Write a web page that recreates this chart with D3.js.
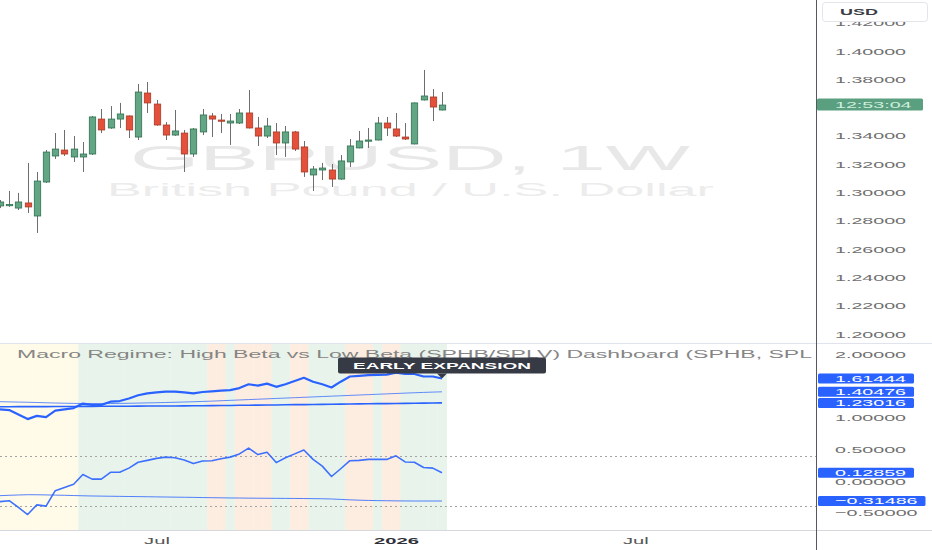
<!DOCTYPE html>
<html><head><meta charset="utf-8">
<script src="https://cdn.jsdelivr.net/npm/d3@7/dist/d3.min.js"></script>
<style>html,body{margin:0;padding:0;background:#fff;overflow:hidden}svg{display:block}</style>
</head><body><svg id="c" width="932" height="550"></svg>
<script>
// ---------- DATA ----------
const startDate = "2025-03-03"; // first weekly bar (Monday)
const open  = [1.2905,1.2912,1.2890,1.2926,1.2834,1.3074,1.3258,1.3300,1.3251,1.3251,1.3272,1.3519,1.3456,1.3519,1.3541,1.3392,1.3703,1.3625,1.3477,1.3406,1.3420,1.3272,1.3428,1.3541,1.3512,1.3491,1.3491,1.3562,1.3456,1.3399,1.3428,1.3350,1.3428,1.3322,1.3124,1.3159,1.3159,1.3095,1.3216,1.3315,1.3367,1.3371,1.3491,1.3449,1.3392,1.3343,1.3654,1.3675,1.3583];
const high  = [1.2947,1.3011,1.2997,1.3209,1.3145,1.3300,1.3420,1.3442,1.3399,1.3357,1.3541,1.3590,1.3611,1.3633,1.3545,1.3767,1.3781,1.3654,1.3498,1.3583,1.3442,1.3456,1.3590,1.3562,1.3555,1.3555,1.3590,1.3724,1.3534,1.3527,1.3491,1.3470,1.3435,1.3364,1.3187,1.3209,1.3201,1.3265,1.3378,1.3435,1.3456,1.3534,1.3534,1.3562,1.3491,1.3636,1.3866,1.3731,1.3710];
const low   = [1.2890,1.2898,1.2876,1.2855,1.2714,1.3067,1.3237,1.3258,1.3216,1.3145,1.3265,1.3420,1.3450,1.3456,1.3385,1.3371,1.3562,1.3472,1.3371,1.3400,1.3145,1.3251,1.3406,1.3392,1.3420,1.3336,1.3484,1.3452,1.3329,1.3385,1.3265,1.3251,1.3293,1.3110,1.3011,1.3088,1.3039,1.3090,1.3180,1.3312,1.3315,1.3368,1.3399,1.3392,1.3371,1.3340,1.3650,1.3505,1.3580];
const close = [1.2933,1.2915,1.2933,1.2898,1.3081,1.3286,1.3307,1.3272,1.3307,1.3272,1.3534,1.3442,1.3519,1.3555,1.3442,1.3710,1.3633,1.3477,1.3406,1.3435,1.3272,1.3449,1.3548,1.3519,1.3505,1.3505,1.3562,1.3456,1.3399,1.3470,1.3350,1.3428,1.3307,1.3145,1.3166,1.3173,1.3095,1.3223,1.3329,1.3364,1.3371,1.3491,1.3456,1.3399,1.3378,1.3633,1.3682,1.3604,1.3618];

const ratio     = [1.127,1.117,1.046,0.975,1.026,1.006,1.107,1.127,1.148,1.219,1.199,1.199,1.249,1.259,1.300,1.351,1.381,1.397,1.407,1.407,1.397,1.381,1.402,1.412,1.422,1.432,1.463,1.524,1.503,1.534,1.483,1.524,1.574,1.625,1.564,1.524,1.473,1.564,1.646,1.656,1.666,1.671,1.676,1.706,1.686,1.686,1.646,1.646,1.61444];
const ratioMA   = [1.249,1.246,1.243,1.240,1.236,1.232,1.228,1.225,1.222,1.220,1.219,1.219,1.220,1.222,1.224,1.227,1.230,1.233,1.236,1.240,1.244,1.248,1.253,1.258,1.264,1.270,1.276,1.282,1.288,1.294,1.300,1.306,1.312,1.318,1.324,1.330,1.336,1.342,1.348,1.354,1.360,1.366,1.372,1.378,1.384,1.390,1.395,1.400,1.40476];
const ratioLong = [1.170,1.170,1.171,1.171,1.172,1.172,1.173,1.173,1.174,1.175,1.175,1.176,1.177,1.177,1.178,1.179,1.180,1.180,1.181,1.182,1.183,1.184,1.186,1.187,1.189,1.190,1.192,1.193,1.195,1.197,1.198,1.200,1.202,1.203,1.205,1.207,1.209,1.210,1.212,1.214,1.216,1.218,1.219,1.221,1.223,1.225,1.227,1.229,1.23016];
const osc       = [-0.325,-0.310,-0.417,-0.528,-0.376,-0.396,-0.152,-0.102,-0.051,0.102,0.030,0.030,0.137,0.137,0.203,0.295,0.325,0.356,0.376,0.366,0.330,0.274,0.315,0.320,0.350,0.376,0.427,0.518,0.416,0.452,0.290,0.366,0.427,0.488,0.340,0.234,0.071,0.193,0.320,0.325,0.340,0.340,0.340,0.396,0.300,0.295,0.213,0.203,0.12859];
const oscMA     = [-0.231,-0.225,-0.220,-0.216,-0.217,-0.219,-0.222,-0.225,-0.229,-0.233,-0.236,-0.238,-0.240,-0.242,-0.244,-0.246,-0.248,-0.250,-0.252,-0.254,-0.256,-0.258,-0.261,-0.263,-0.265,-0.267,-0.268,-0.270,-0.271,-0.272,-0.273,-0.274,-0.275,-0.276,-0.278,-0.280,-0.283,-0.290,-0.297,-0.302,-0.306,-0.309,-0.311,-0.313,-0.314,-0.315,-0.315,-0.315,-0.31486];
const regimeRuns = [["Y",9],["G",14],["O",2],["G",1],["O",4],["G",2],["O",2],["G",4],["O",3],["G",1],["O",2],["G",5]];
const levels    = [0.4, -0.4];

// tick labels (1.36000 and 1.50000 are hidden under the value labels in the original)
const priceTicks = [1.20,1.22,1.24,1.26,1.28,1.30,1.32,1.34,1.38,1.40,1.42];
const oscTicks   = [-0.5,0,0.5,1,2];
const timeTicks  = ["2025-06-30","2025-12-29","2026-06-29"];
const timeLabels = ["Jul","2026","Jul"];
const symbolText = "GBPUSD, 1W";
const symbolDesc = "British Pound / U.S. Dollar";
const paneTitle  = "Macro Regime: High Beta vs Low Beta (SPHB/SPLV) Dashboard (SPHB, SPL"; // as cut by the price scale
const regimeLabel = "EARLY EXPANSION";
const countdown = "12:53:04";
const currency = "USD";

// ---------- SETUP ----------
const FONT = "'Liberation Sans',Arial,sans-serif";
const svg = d3.select("#c");
const W = 932, H = 550, AX = 816;
const topY0 = 0, topY1 = 343.5, botY0 = 344, botY1 = 530.5;

const parse = s => new Date(s + "T00:00:00Z");
const t0 = parse(startDate);
const dates = open.map((_, i) => d3.utcDay.offset(t0, 7 * i));
const regime = regimeRuns.flatMap(([k, n]) => Array(n).fill(k));

const x  = d3.scaleUtc().domain([dates[0], dates[dates.length - 1]]).range([0, 442]);
const yP = d3.scaleLinear().domain([1.20, 1.40]).range([334, 51]);
const yO = d3.scaleLinear().domain([0, 2]).range([481, 354]);
const step = x(dates[1]) - x(dates[0]);

function measure(str, size, weight) {
  const t = svg.append("text").attr("font-family", FONT).attr("font-size", size)
    .attr("font-weight", weight || 400).text(str);
  const w = t.node().getComputedTextLength(); t.remove(); return w;
}
const AXFS = 9.4;
const sxAxis  = 71 / measure("1.40000", AXFS);
const sxTime  = 45 / measure("2026", 9.6, 700);
const sxUSD   = 38 / measure("USD", 9.6, 700);
const titleW  = 812 - 17;

const defs = svg.append("defs");
defs.append("clipPath").attr("id", "clipTop").append("rect").attr("x", 0).attr("y", topY0).attr("width", AX).attr("height", topY1 - topY0);
defs.append("clipPath").attr("id", "clipBot").append("rect").attr("x", 0).attr("y", botY0).attr("width", AX).attr("height", botY1 - botY0);

svg.append("rect").attr("width", W).attr("height", H).attr("fill", "#fff");

// ---------- TOP PANE ----------
const topG = svg.append("g").attr("clip-path", "url(#clipTop)");
topG.append("text").attr("x", 130).attr("y", 170).attr("font-family", FONT).attr("font-size", 35)
  .attr("fill", "#e8e8e8").attr("textLength", 560).attr("lengthAdjust", "spacingAndGlyphs").text(symbolText);
topG.append("text").attr("x", 107).attr("y", 196).attr("font-family", FONT).attr("font-size", 19)
  .attr("fill", "#ececec").attr("textLength", 607).attr("lengthAdjust", "spacingAndGlyphs").text(symbolDesc);

const candles = open.map((o, i) => ({ d: dates[i], o, h: high[i], l: low[i], c: close[i] }));
topG.selectAll("line.wick").data(candles).join("line").attr("class", "wick")
  .attr("x1", d => Math.round(x(d.d)) + 0.5).attr("x2", d => Math.round(x(d.d)) + 0.5)
  .attr("y1", d => yP(d.h)).attr("y2", d => yP(d.l)).attr("stroke", "#6e6e6e").attr("stroke-width", 1);
topG.selectAll("rect.body").data(candles).join("rect").attr("class", "body")
  .attr("x", d => Math.round(x(d.d)) + 0.5 - 3.2).attr("width", 6.4)
  .attr("y", d => yP(Math.max(d.o, d.c))).attr("height", d => Math.max(1.2, Math.abs(yP(d.o) - yP(d.c))))
  .attr("fill", d => d.c >= d.o ? "#62a686" : "#e4503a")
  .attr("stroke", d => d.c >= d.o ? "#30704f" : "#a83a27").attr("stroke-width", 0.8);

// ---------- BOTTOM PANE ----------
const botG = svg.append("g").attr("clip-path", "url(#clipBot)");
const bandColor = { Y: "#fffbe8", G: "#e8f4eb", O: "#fdede0" };
botG.selectAll("rect.band").data(regime.map((r, i) => ({ r, d: dates[i] }))).join("rect").attr("class", "band")
  .attr("x", d => x(d.d) - step / 2).attr("width", step + 0.4)
  .attr("y", botY0).attr("height", botY1 - botY0).attr("fill", d => bandColor[d.r]);
botG.selectAll("line.lvl").data(levels).join("line").attr("class", "lvl")
  .attr("x1", 0).attr("x2", AX).attr("y1", d => Math.round(yO(d)) + 0.5).attr("y2", d => Math.round(yO(d)) + 0.5)
  .attr("stroke", "#a3a3a3").attr("stroke-dasharray", "2,3").attr("stroke-width", 1);
botG.append("text").attr("x", 17).attr("y", 358).attr("font-family", FONT).attr("font-size", 10)
  .attr("fill", "#858585").attr("textLength", titleW).attr("lengthAdjust", "spacingAndGlyphs").text(paneTitle);

const line = arr => d3.line().x((d, i) => x(dates[i])).y(d => yO(d))(arr);
const series = [
  { v: ratioLong, w: 1.6, c: "#2962ff", o: 1 },
  { v: ratioMA,   w: 0.9, c: "#2962ff", o: 0.8 },
  { v: oscMA,     w: 1.0, c: "#2962ff", o: 0.8 },
  { v: osc,       w: 1.6, c: "#2962ff", o: 0.9 },
  { v: ratio,     w: 2.2, c: "#2962ff", o: 1 }
];
botG.selectAll("path.s").data(series).join("path").attr("class", "s")
  .attr("d", d => line(d.v)).attr("fill", "none").attr("stroke", d => d.c)
  .attr("stroke-width", d => d.w).attr("stroke-opacity", d => d.o).attr("stroke-linejoin", "round");

// regime label
const lx = x(dates[dates.length - 1]), tipY = yO(ratio[ratio.length - 1]);
const lb = tipY - 5, lh = 16, lw = 208;
const lab = svg.append("g");
lab.append("rect").attr("x", lx - lw / 2).attr("y", lb - lh).attr("width", lw).attr("height", lh).attr("rx", 2).attr("fill", "#363a45");
lab.append("path").attr("d", `M${lx - 5},${lb} L${lx + 5},${lb} L${lx},${tipY} Z`).attr("fill", "#363a45");
lab.append("text").attr("x", lx - 89).attr("y", lb - lh / 2).attr("dy", "0.35em").attr("font-family", FONT)
  .attr("font-size", 9.6).attr("font-weight", 700).attr("fill", "#fff")
  .attr("textLength", 178).attr("lengthAdjust", "spacingAndGlyphs").text(regimeLabel);

// ---------- FRAME LINES ----------
svg.append("line").attr("x1", 0).attr("x2", W).attr("y1", topY1).attr("y2", topY1).attr("stroke", "#e0e3eb");
svg.append("line").attr("x1", 0).attr("x2", W).attr("y1", botY1).attr("y2", botY1).attr("stroke", "#d6d8de");
svg.append("line").attr("x1", AX + 0.5).attr("x2", AX + 0.5).attr("y1", 0).attr("y2", H).attr("stroke", "#55585f");

// ---------- RIGHT AXES ----------
const PAD = 19;
function styleAxis(g) {
  g.select(".domain").remove();
  g.selectAll(".tick line").remove();
  g.selectAll(".tick text").attr("font-family", FONT).attr("font-size", AXFS).attr("fill", "#6f6f6f")
    .attr("text-anchor", "start").attr("x", PAD / sxAxis).attr("transform", `scale(${sxAxis},1)`);
}
svg.append("g").attr("transform", `translate(${AX},0)`)
  .call(d3.axisRight(yP).tickValues(priceTicks).tickSize(0).tickFormat(d3.format(".5f"))).call(styleAxis);
svg.append("g").attr("transform", `translate(${AX},0)`)
  .call(d3.axisRight(yO).tickValues(oscTicks).tickSize(0).tickFormat(d3.format(".5f"))).call(styleAxis);

// last value labels
const lastVals = [ratio, ratioMA, ratioLong, osc, oscMA].map(a => a[a.length - 1]);
const vl = svg.selectAll("g.vl").data(lastVals).join("g").attr("class", "vl")
  .attr("transform", d => `translate(0,${yO(d)})`);
vl.each(function (d) {
  const g = d3.select(this);
  const txt = d3.format(".5f")(d);
  const w = measure(txt, AXFS) * sxAxis;
  g.append("rect").attr("x", AX + 2).attr("y", -5).attr("width", PAD - 2 + w + 8).attr("height", 10).attr("rx", 1.5).attr("fill", "#2962ff");
  g.append("text").attr("x", (AX + PAD) / sxAxis).attr("dy", "0.34em").attr("transform", `scale(${sxAxis},1)`)
    .attr("font-family", FONT).attr("font-size", AXFS).attr("fill", "#fff").text(txt);
});

// current price / countdown box
const cy = yP(close[close.length - 1]);
svg.append("rect").attr("x", AX + 1).attr("y", cy - 6.5).attr("width", 106).attr("height", 12).attr("rx", 1.5).attr("fill", "#5a9f7f");
svg.append("text").attr("transform", `translate(${AX + PAD},${cy}) scale(${sxAxis},1)`).attr("dy", "0.34em")
  .attr("font-family", FONT).attr("font-size", AXFS).attr("fill", "#cfeedd").text(countdown);

// currency box
svg.append("rect").attr("x", 822.5).attr("y", 2.5).attr("width", 105).attr("height", 19).attr("rx", 3)
  .attr("fill", "#fff").attr("stroke", "#e3e5ea");
svg.append("text").attr("transform", `translate(840,12) scale(${sxUSD},1)`).attr("dy", "0.35em")
  .attr("font-family", FONT).attr("font-size", 9.6).attr("font-weight", 700).attr("fill", "#3a3d45").text(currency);

// ---------- TIME AXIS ----------
const tg = svg.append("g").attr("transform", `translate(0,${botY1})`)
  .call(d3.axisBottom(x).tickValues(timeTicks.map(parse)).tickSize(0).tickPadding(7).tickFormat((d, i) => timeLabels[i]));
tg.select(".domain").remove();
tg.selectAll(".tick text").attr("font-family", FONT).attr("font-size", 9.6)
  .attr("font-weight", (d, i) => timeLabels[i] === "2026" ? 700 : 400)
  .attr("fill", (d, i) => timeLabels[i] === "2026" ? "#2f3138" : "#555")
  .attr("transform", `scale(${sxTime},1)`);
</script></body></html>
